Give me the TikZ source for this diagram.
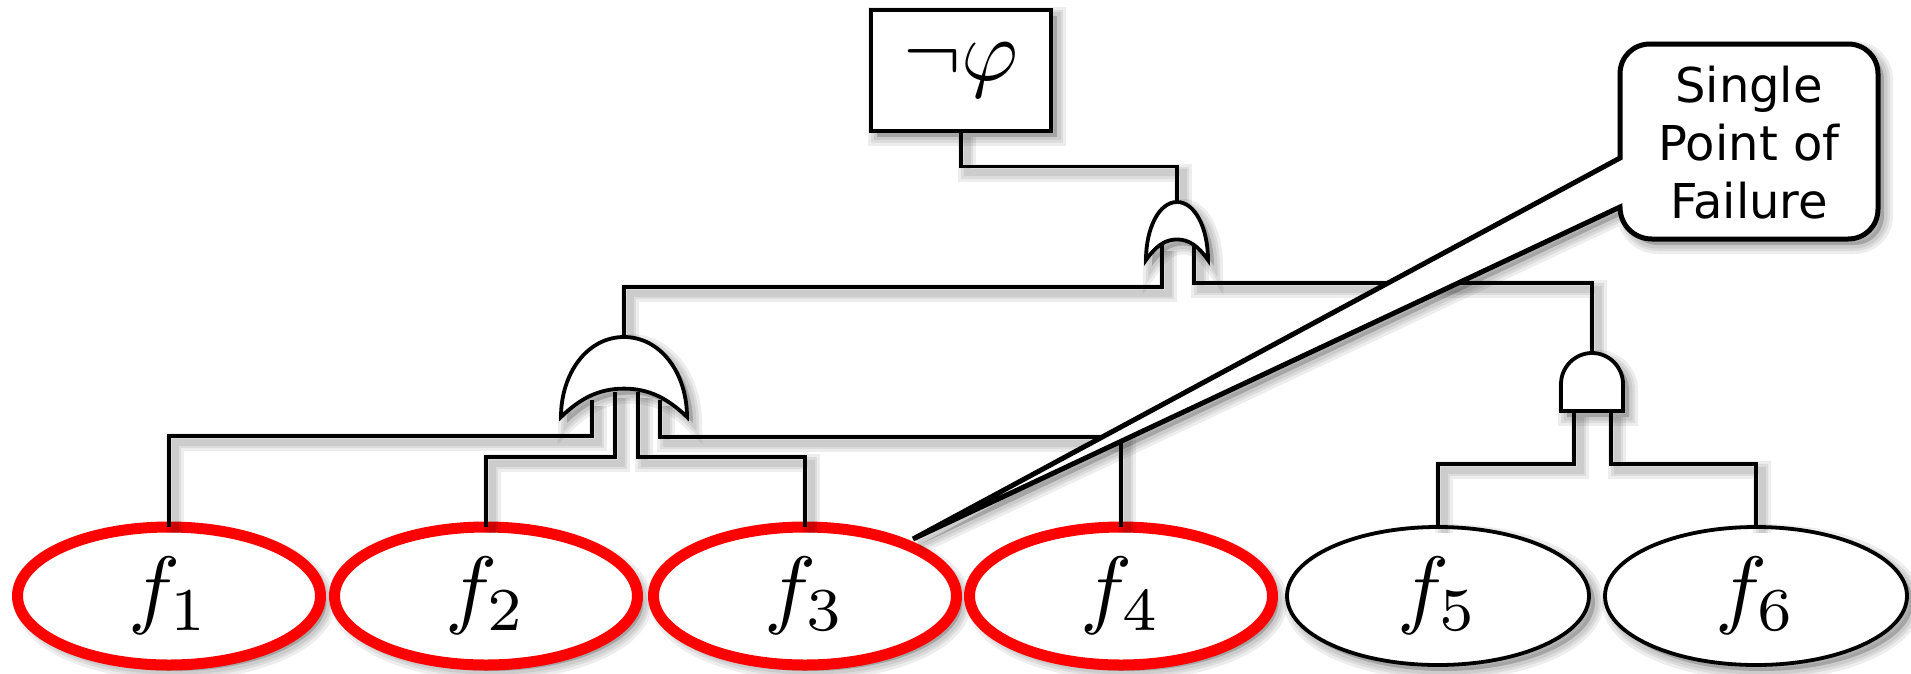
\documentclass[tikz,border=0pt]{standalone}
\usepackage[no-math]{fontspec}
\usepackage{amsmath,amssymb}
\usepackage{graphicx}
\usepackage{xcolor}
\usepackage{tikz}
\usetikzlibrary{shapes.geometric}
\newfontfamily\calloutfont{DejaVu Sans}
\newcommand{\bigmath}[1]{\scalebox{8.7}{$#1$}}

\begin{document}
\begin{tikzpicture}[x=1pt,y=-1pt,
  shadowlayer/.style={preaction={draw=black,opacity=.07,line width=#1,transform canvas={xshift=6pt,yshift=-6pt}}},
  shapelayer/.style={preaction={draw=black,fill=black,opacity=.07,line width=#1,transform canvas={xshift=6pt,yshift=-6pt}}},
  softwire/.style={shadowlayer=18pt,shadowlayer=12pt,shadowlayer=7pt},
  softshape/.style={shapelayer=18pt,shapelayer=12pt,shapelayer=7pt},
  wire/.style={draw=black,line width=3.8pt,softwire},
  gatebody/.style={draw=black,fill=white,line width=3.8pt,softshape},
  basic/.style={ellipse,draw=black,fill=white,line width=3.8pt,inner sep=0pt,outer sep=0pt,
    minimum width=302pt,minimum height=138pt,softshape},
  failed/.style={basic,draw=red,line width=11pt,minimum width=303pt,minimum height=138pt},
  topbox/.style={rectangle,draw=black,fill=white,line width=4pt,inner sep=0pt,outer sep=0pt,
    minimum width=180pt,minimum height=121pt,softshape},
  callout/.style={draw=black,fill=white,line width=5pt,softshape},
  callouttext/.style={align=center,inner sep=0pt,font=\calloutfont\fontsize{48}{58}\selectfont},
  orgate/.pic={
    \path[gatebody] (-1,1) .. controls (-1,.45) and (-.58,0) .. (0,0)
      .. controls (.58,0) and (1,.45) .. (1,1)
      .. controls (.7,.77) and (.4,.645) .. (0,.645)
      .. controls (-.4,.645) and (-.7,.77) .. (-1,1) -- cycle;
  }
]
\useasboundingbox (0,0) rectangle (1911,673);

%--- basic events ---
\node[failed] (f1) at (169,596) {\bigmath{f_1}};
\node[failed] (f2) at (486,596) {\bigmath{f_2}};
\node[failed] (f3) at (805,596) {\bigmath{f_3}};
\node[failed] (f4) at (1121,596) {\bigmath{f_4}};
\node[basic] (f5) at (1438,596) {\bigmath{f_5}};
\node[basic] (f6) at (1756,596) {\bigmath{f_6}};

%--- top event ---
\node[topbox] (top) at (961,70) {\bigmath{\neg\varphi}};

%--- gate ports ---
\coordinate (ortop) at (1177,202);
\coordinate (orinl) at (1162,245);
\coordinate (orinr) at (1194,245);
\coordinate (subtop) at (624,337);
\coordinate (subina) at (592,400);
\coordinate (subinb) at (615,392);
\coordinate (subinc) at (638,392);
\coordinate (subind) at (660,400);
\coordinate (andtop) at (1592,353);
\coordinate (andinl) at (1574,411);
\coordinate (andinr) at (1611,411);

%--- wires ---
\draw[wire] (top.south) -- ++(0,36) -| (ortop);
\draw[wire] (orinl) -- ++(0,42) -| (subtop);
\draw[wire] (orinr) -- ++(0,38) -| (andtop);
\draw[wire] (subina) -- ++(0,36) -| (f1.north);
\draw[wire] (subinb) -- ++(0,65) -| (f2.north);
\draw[wire] (subinc) -- ++(0,65) -| (f3.north);
\draw[wire] (subind) -- ++(0,37) -| (f4.north);
\draw[wire] (andinl) -- ++(0,53) -| (f5.north);
\draw[wire] (andinr) -- ++(0,53) -| (f6.north);

%--- gates ---
\pic[xscale=31,yscale=58] at (ortop) {orgate};
\pic[xscale=63,yscale=80] at (subtop) {orgate};
\path[gatebody] (1561,411) -- (1561,384) .. controls (1561,367) and (1575,353) .. (andtop)
  .. controls (1609,353) and (1623,367) .. (1623,384) -- (1623,411) -- cycle;

%--- callout ---
\coordinate (tip) at (913,539);
\coordinate (neckup) at (1620,158);
\coordinate (necklow) at (1620,207);
\path[callout] (tip) -- (neckup) -- (1620,74) .. controls (1620,57) and (1633,44) .. (1650,44)
  -- (1848,44) .. controls (1865,44) and (1878,57) .. (1878,74)
  -- (1878,209) .. controls (1878,226) and (1865,239) .. (1848,239)
  -- (1652,239) .. controls (1634,239) and (1620,225) .. (necklow) -- cycle;
\node[callouttext] (spof) at (1749,143) {Single\\Point of\\Failure};
\end{tikzpicture}
\end{document}
